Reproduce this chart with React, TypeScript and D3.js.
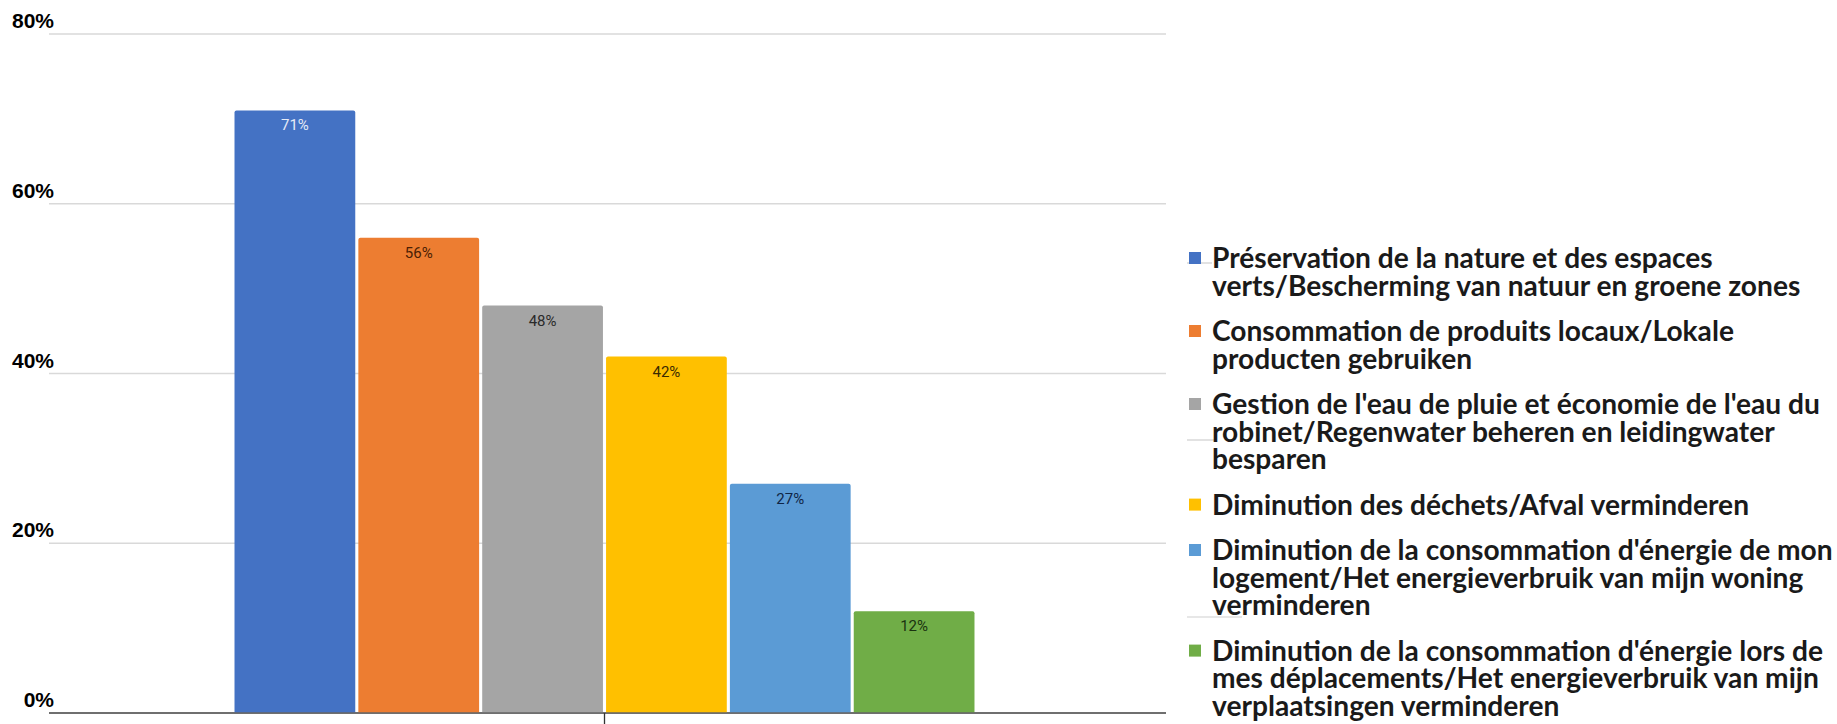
import React, { useLayoutEffect, useRef, useState } from "react";
import * as d3 from "d3";

const categories = ["Réponses"];
const seriesNames = [
  "Préservation de la nature et des espaces verts/Bescherming van natuur en groene zones",
  "Consommation de produits locaux/Lokale producten gebruiken",
  "Gestion de l'eau de pluie et économie de l'eau du robinet/Regenwater beheren en leidingwater besparen",
  "Diminution des déchets/Afval verminderen",
  "Diminution de la consommation d'énergie de mon logement/Het energieverbruik van mijn woning verminderen",
  "Diminution de la consommation d'énergie lors de mes déplacements/Het energieverbruik van mijn verplaatsingen verminderen",
];
const seriesValues = [71, 56, 48, 42, 27, 12];
const seriesColors = ["#4472c4", "#ed7d31", "#a5a5a5", "#ffc000", "#5b9bd5", "#70ad47"];
const valueLabelColors = ["#e4eaf6", "#4a1e04", "#2a2a2a", "#3a2a00", "#0f2546", "#1a3210"];
const yTicks = [0, 20, 40, 60, 80];
const legendLines = [
  ["Préservation de la nature et des espaces", "verts/Bescherming van natuur en groene zones"],
  ["Consommation de produits locaux/Lokale", "producten gebruiken"],
  ["Gestion de l'eau de pluie et économie de l'eau du", "robinet/Regenwater beheren en leidingwater", "besparen"],
  ["Diminution des déchets/Afval verminderen"],
  ["Diminution de la consommation d'énergie de mon", "logement/Het energieverbruik van mijn woning", "verminderen"],
  ["Diminution de la consommation d'énergie lors de", "mes déplacements/Het energieverbruik van mijn", "verplaatsingen verminderen"],
];

const W = 1837;
const H = 724;

export default function App() {
  const [legendFont, setLegendFont] = useState(23);
  const refLine = useRef<SVGTextElement | null>(null);

  useLayoutEffect(() => {
    if (refLine.current) {
      const w = refLine.current.getComputedTextLength();
      const target = 608;
      if (w > 0 && Math.abs(w - target) > 2) {
        setLegendFont((f) => (f * target) / w);
      }
    }
  }, [legendFont]);

  const y = d3.scaleLinear().domain([0, 80]).range([713, 34]);
  const xOuter = d3.scaleBand<string>().domain(categories).range([43, 1166]).paddingInner(0).paddingOuter(0.2588);
  const gridLeft = 49;
  const gridRight = 1166;

  const seriesKeys = seriesNames.map((_, i) => String(i));
  const x0 = xOuter(categories[0]) as number;
  const xInner = d3
    .scaleBand<string>()
    .domain(seriesKeys)
    .range([x0, x0 + xOuter.bandwidth()])
    .paddingInner(0.025)
    .paddingOuter(0);

  const tickX = x0 + xOuter.bandwidth() / 2;

  // legend layout
  const legendX = 1189;
  const textX = 1212;
  const lineH = 27.6;
  const itemGap = 17.8;
  let baseline = 268;
  const legendItems = legendLines.map((lines, i) => {
    const ys = lines.map((_, j) => baseline + j * lineH);
    baseline = ys[ys.length - 1] + lineH + itemGap;
    return { lines, ys, i };
  });

  return (
    <svg
      width={W}
      height={H}
      style={{ position: "absolute", left: 0, top: 0, background: "#fff" }}
    >
      <rect x={0} y={0} width={W} height={H} fill="#ffffff" />
      {/* gridlines */}
      {yTicks.map((t) => (
        <line
          key={"g" + t}
          x1={gridLeft}
          x2={gridRight}
          y1={y(t)}
          y2={y(t)}
          stroke={t === 0 ? "#666666" : "#d9d9d9"}
          strokeWidth={t === 0 ? 1.5 : 1.3}
        />
      ))}
      {/* y tick labels */}
      {yTicks.map((t) => (
        <text
          key={"yl" + t}
          x={54}
          y={y(t) - 6}
          textAnchor="end"
          fontFamily="'Liberation Sans', Arial, sans-serif"
          fontWeight={700}
          fontSize={21}
          fill="#000"
        >
          {t + "%"}
        </text>
      ))}
      {/* bars */}
      {seriesValues.map((v, i) => {
        const bx = xInner(seriesKeys[i]) as number;
        const bw = xInner.bandwidth();
        const top = y(v);
        return (
          <g key={"b" + i}>
            <path
              d={`M${bx},${y(0)} V${top + 2} Q${bx},${top} ${bx + 2},${top} H${bx + bw - 2} Q${bx + bw},${top} ${bx + bw},${top + 2} V${y(0)} Z`}
              fill={seriesColors[i]}
            />
            <text
              x={bx + bw / 2}
              y={top + 20}
              textAnchor="middle"
              fontFamily="Roboto, sans-serif"
              fontSize={15}
              fill={valueLabelColors[i]}
            >
              {v + "%"}
            </text>
          </g>
        );
      })}
      {/* baseline axis */}
      <line x1={gridLeft} x2={gridRight} y1={y(0)} y2={y(0)} stroke="#666666" strokeWidth={1.5} />
      <line x1={tickX} x2={tickX} y1={y(0)} y2={H} stroke="#333333" strokeWidth={1.3} />
      {/* remnant gridline fragments in legend area */}
      {[263, 440, 617].map((yy, k) => (
        <line
          key={"f" + k}
          x1={1187}
          x2={[1212, 1215, 1242][k]}
          y1={yy}
          y2={yy}
          stroke="#cfcfcf"
          strokeWidth={1.2}
        />
      ))}
      {/* legend */}
      {legendItems.map(({ lines, ys, i }) => (
        <g key={"lg" + i}>
          <rect x={legendX} y={ys[0] - 16} width={12} height={12} fill={seriesColors[i]} />
          {lines.map((ln, j) => (
            <text
              key={j}
              ref={i === 2 && j === 0 ? refLine : undefined}
              x={textX}
              y={ys[j]}
              fontFamily="Lato, 'Open Sans', sans-serif"
              fontWeight={700}
              fontSize={legendFont}
              fill="#1a1a1a"
            >
              {ln}
            </text>
          ))}
        </g>
      ))}
    </svg>
  );
}
